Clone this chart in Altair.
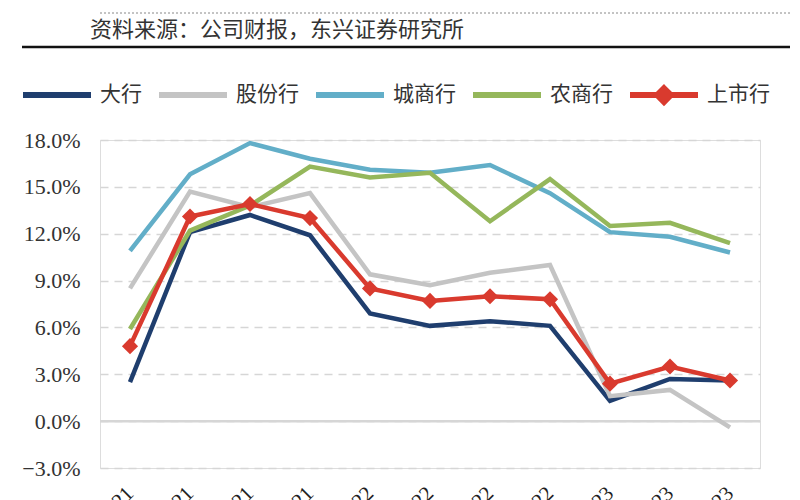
import altair as alt
import pandas as pd

periods = ["1Q21", "2Q21", "3Q21", "4Q21", "1Q22", "2Q22", "3Q22", "4Q22", "1Q23", "2Q23", "3Q23"]
series_names = ["大行", "股份行", "城商行", "农商行", "上市行"]
big_banks = [2.5, 12.1, 13.2, 11.9, 6.9, 6.1, 6.4, 6.1, 1.3, 2.7, 2.6]
joint_stock = [8.5, 14.7, 13.7, 14.6, 9.4, 8.7, 9.5, 10.0, 1.6, 2.0, -0.4]
city_banks = [10.9, 15.8, 17.8, 16.8, 16.1, 15.9, 16.4, 14.6, 12.1, 11.8, 10.8]
rural_banks = [5.9, 12.2, 13.8, 16.3, 15.6, 15.9, 12.8, 15.5, 12.5, 12.7, 11.4]
listed_banks = [4.8, 13.1, 13.9, 13.0, 8.5, 7.7, 8.0, 7.8, 2.4, 3.5, 2.6]
colors = ["#1f3e6e", "#c4c4c4", "#62aec8", "#95b75b", "#d93a2e"]
y_ticks = [-3, 0, 3, 6, 9, 12, 15, 18]
subtitle = "资料来源：公司财报，东兴证券研究所"

rows = []
for name, vals in zip(series_names, [big_banks, joint_stock, city_banks, rural_banks, listed_banks]):
    for p, v in zip(periods, vals):
        rows.append({"period": p, "series": name, "value": v})
df = pd.DataFrame(rows)

SERIF = "Liberation Serif"
CJK = "Noto Sans CJK SC"

x_enc = alt.X("period:N", sort=periods, title=None,
              scale=alt.Scale(paddingOuter=0.5),
              axis=alt.Axis(labelAngle=315, labelAlign="right", labelBaseline="middle",
                            labelFont=SERIF, labelFontSize=21, labelColor="#222",
                            labelPadding=22, ticks=False, domain=False, grid=False))
y_enc = alt.Y("value:Q", title=None,
              scale=alt.Scale(domain=[-3, 18], nice=False, zero=False),
              axis=alt.Axis(values=y_ticks, labelExpr="format(datum.value, '.1f') + '%'",
                            labelFont=SERIF, labelFontSize=22, labelColor="#333",
                            labelPadding=20, ticks=False, domain=False,
                            grid=True, gridColor="#d6d6d6", gridDash=[8, 6], gridWidth=1.5))

legend_shape = ("datum.value === '上市行' ? "
                "'M-1,0L1,0M0,-0.2L0.2,0L0,0.2L-0.2,0ZM0,-0.1L0.1,0L0,0.1L-0.1,0Z' : "
                "'M-1,0L1,0M0,-0.2L0,-0.2M0,0.2L0,0.2'")

lines = alt.Chart(df).mark_line(strokeWidth=4.5).encode(
    x=x_enc,
    y=y_enc,
    color=alt.Color("series:N", sort=series_names,
                    scale=alt.Scale(domain=series_names, range=colors),
                    legend=alt.Legend(title=None, orient="none", legendX=-80, legendY=-82,
                                      direction="horizontal", columns=5, columnPadding=5,
                                      symbolType=alt.ExprRef(expr=legend_shape),
                                      symbolSize=4624, symbolStrokeWidth=6,
                                      labelFont=CJK, labelFontSize=21, labelColor="#333",
                                      labelOffset=6)),
)

zero_line = alt.Chart(pd.DataFrame({"v": [0]})).mark_rule(color="#d6d6d6", strokeWidth=2.5).encode(
    y=alt.Y("v:Q", scale=alt.Scale(domain=[-3, 18], nice=False, zero=False))
)

points = alt.Chart(df).transform_filter(alt.datum.series == "上市行").mark_point(
    shape="diamond", filled=True, size=260, color="#d93a2e", opacity=1
).encode(x=x_enc, y=y_enc)

sub_text = alt.Chart(pd.DataFrame({"t": [subtitle]})).mark_text(
    align="left", baseline="middle", font=CJK, fontSize=22, color="#333"
).encode(text="t:N", x=alt.value(-10), y=alt.value(-110))

thick_rule = alt.Chart(pd.DataFrame({"a": [0]})).mark_rule(color="#111", strokeWidth=2.5).encode(
    x=alt.value(-78), x2=alt.value(690), y=alt.value(-93))
dotted_rule = alt.Chart(pd.DataFrame({"a": [0]})).mark_rule(color="#888", strokeWidth=1, strokeDash=[2, 2]).encode(
    x=alt.value(0), x2=alt.value(690), y=alt.value(-127))

chart = alt.layer(zero_line, lines, points, sub_text, thick_rule, dotted_rule).properties(
    width=660, height=328,
    autosize=alt.AutoSizeParams(type="none"),
    padding={"left": 92, "top": 132, "right": 32, "bottom": 60},
).configure_view(stroke=None).configure(background="white")

chart.save("out.html", embed_options={"renderer": "svg", "actions": False})
